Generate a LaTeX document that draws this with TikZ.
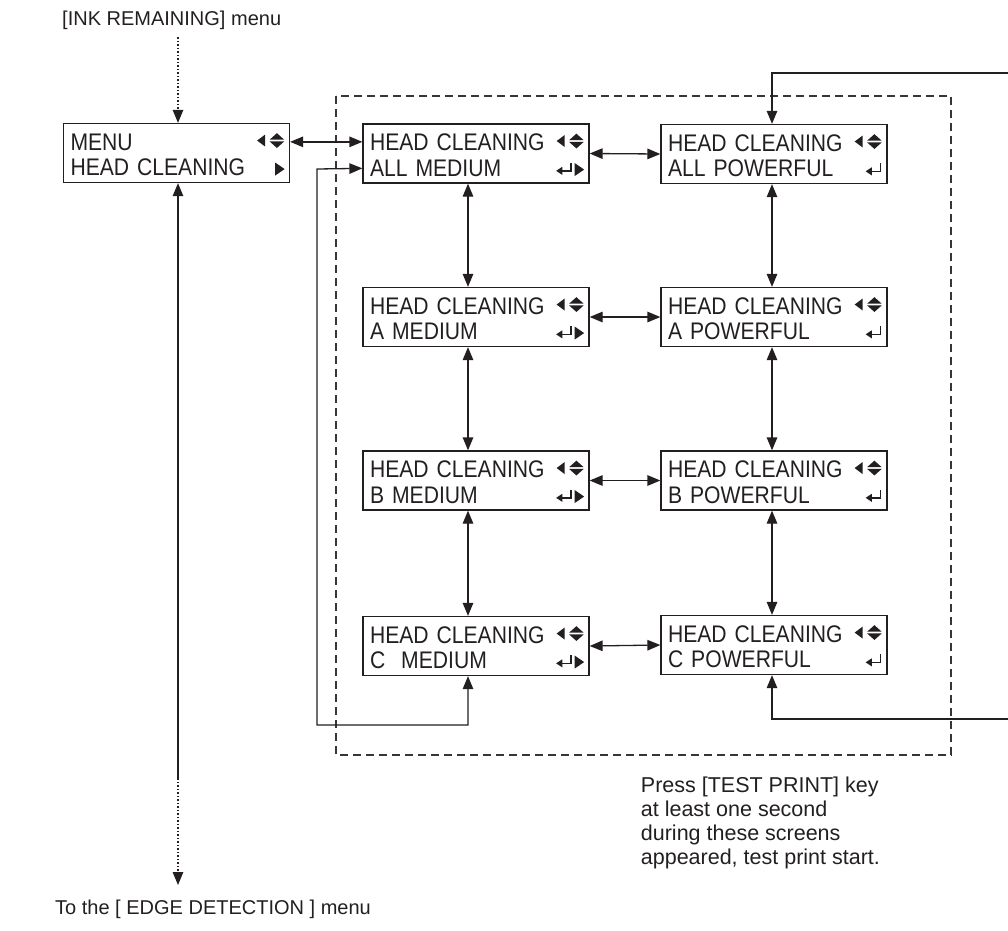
\documentclass[tikz,border=0pt]{standalone}
\usepackage{fontspec}
\setmainfont{Liberation Sans}
\newfontfamily\lcdfont[FakeStretch=0.88]{Liberation Sans}
\usetikzlibrary{arrows.meta,calc}
\definecolor{ink}{HTML}{231F20}
\newcommand{\symUD}[1]{%
  \begin{scope}[shift={(#1.north east)}]
    \fill[ink] (-33,17.7) -- (-25,11.7) -- (-25,23.7) -- cycle;
    \fill[ink] (-20.5,16.8) -- (-6,16.8) -- (-13.25,10.3) -- cycle;
    \fill[ink] (-20.5,18.6) -- (-6,18.6) -- (-13.25,25.1) -- cycle;
  \end{scope}}
\newcommand{\symRight}[1]{%
  \begin{scope}[shift={(#1.north east)}]
    \fill[ink] (-15,39.7) -- (-5.5,46.2) -- (-15,52.7) -- cycle;
  \end{scope}}
\newcommand{\symRet}[2]{%
  \begin{scope}[shift={(#1.north east)}]
    \draw[ink,line width=1.6pt] (#2,39.5) -- (#2,47.5) -- ({#2-9.5},47.5);
    \fill[ink] ({#2-15},47.5) -- ({#2-8.8},43.4) -- ({#2-8.8},51.6) -- cycle;
  \end{scope}}
\begin{document}
\begin{tikzpicture}[x=1pt,y=-1pt,
  lcd/.style={draw=ink, line width=1.3pt, rectangle, minimum width=226pt,
    minimum height=59pt, text width=212pt, inner xsep=7pt, inner ysep=2pt,
    text height=20pt,
    align=left, font=\lcdfont\fontsize{24}{25.3}\selectfont, text=ink},
  lbl/.style={font=\fontsize{21.5}{24}\selectfont, text=ink, inner sep=0pt},
  menulbl/.style={font=\fontsize{20}{24}\selectfont, text=ink, inner sep=0pt},
  conn/.style={draw=ink, line width=1.3pt, -{Triangle[length=13pt,width=10.5pt]}},
  biconn/.style={draw=ink, line width=1.3pt, {Triangle[length=13pt,width=10.5pt]}-{Triangle[length=13pt,width=10.5pt]}},
  dots/.style={draw=ink, line width=1.3pt, dash pattern=on 1.5pt off 2pt},
  region/.style={draw=ink!90, line width=2pt, dash pattern=on 8pt off 5pt}
]
\useasboundingbox (0,0) rectangle (1008,930);

% dashed region
\draw[region] (336,96) rectangle (951,755);

% screens
\node[lcd] (menu) at (176.5,153) {MENU\\HEAD CLEANING};
\node[lcd] (m1) at (476,153.5) {HEAD CLEANING\\ALL MEDIUM};
\node[lcd] (m2) at (476,317) {HEAD CLEANING\\A MEDIUM};
\node[lcd] (m3) at (476,480.5) {HEAD CLEANING\\B MEDIUM};
\node[lcd] (m4) at (476,646) {HEAD CLEANING\\C~~MEDIUM};
\node[lcd] (p1) at (774,154) {HEAD CLEANING\\ALL POWERFUL};
\node[lcd] (p2) at (774,317) {HEAD CLEANING\\A POWERFUL};
\node[lcd] (p3) at (774,480.5) {HEAD CLEANING\\B POWERFUL};
\node[lcd] (p4) at (774,645) {HEAD CLEANING\\C POWERFUL};

% symbols
\symUD{menu}\symRight{menu}
\foreach \n in {m1,m2,m3,m4}{\symUD{\n}\symRight{\n}\symRet{\n}{-18.5}}
\foreach \n in {p1,p2,p3,p4}{\symUD{\n}\symRet{\n}{-7}}

% labels
\node[menulbl, anchor=base west] (inkrem) at (62,25) {[INK REMAINING] menu};
\node[menulbl, anchor=base west] (edge) at (55,914) {To the [ EDGE DETECTION ] menu};
\node[lbl, anchor=north west, align=left] (note) at (640.7,777)
  {Press [TEST PRINT] key\\at least one second\\during these screens\\appeared, test print start.};

% coordinates
\coordinate (inktop) at (178,37);
\coordinate (dotstart) at (178,778);
\coordinate (edgetip) at (178,885);
\coordinate (trin) at (1008,73);
\coordinate (brin) at (1008,719);
\coordinate (loopbl) at (317,725);
\coordinate (looptl) at (317,169);

% connectors
\draw[dots, -{Triangle[length=13pt,width=10.5pt]}] (inktop) -- ($(menu.north)+(1.5,0)$);
\draw[conn] (dotstart) -- ($(menu.south)+(1.5,0)$);
\draw[dots, -{Triangle[length=13pt,width=10.5pt]}] (dotstart) -- (edgetip);

\draw[biconn] ($(menu.north east)+(0,19)$) -- ($(m1.north west)+(0,18.5)$);
\draw[biconn] ($(m1.south)+(-8,0)$) -- ($(m2.north)+(-8,0)$);
\draw[biconn] ($(m2.south)+(-8,0)$) -- ($(m3.north)+(-8,0)$);
\draw[biconn] ($(m3.south)+(-8,0)$) -- ($(m4.north)+(-8,0)$);
\draw[biconn] ($(p1.south)+(-2,0)$) -- ($(p2.north)+(-2,0)$);
\draw[biconn] ($(p2.south)+(-2,0)$) -- ($(p3.north)+(-2,0)$);
\draw[biconn] ($(p3.south)+(-2,0)$) -- ($(p4.north)+(-2,0)$);
\draw[biconn] (m1.east) -- (p1.west);
\draw[biconn] (m2.east) -- (p2.west);
\draw[biconn] (m3.east) -- (p3.west);
\draw[biconn] (m4.east) -- (p4.west);

% loop from C MEDIUM to ALL MEDIUM
\draw[biconn] ($(m1.north west)+(0,45)$) -- (looptl) -- (loopbl) -| ($(m4.south)+(-8,0)$);

% external connectors on the right
\draw[conn] (trin) -| ($(p1.north)+(-2,0)$);
\draw[conn] (brin) -| ($(p4.south)+(-2,0)$);
\end{tikzpicture}
\end{document}
